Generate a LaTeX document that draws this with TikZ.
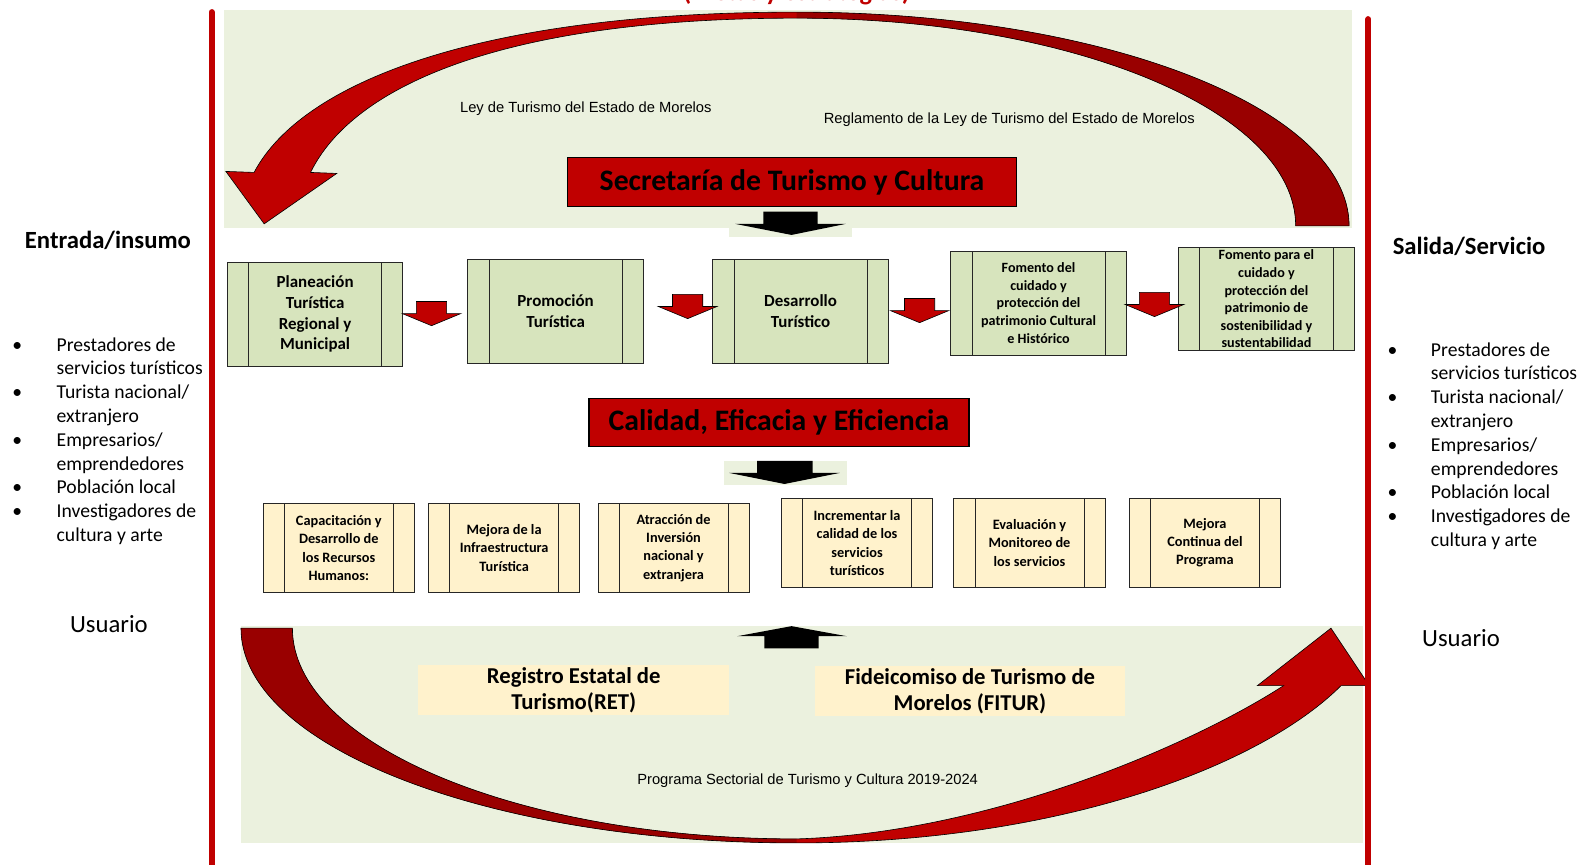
\documentclass[tikz,border=0pt]{standalone}
\usepackage{fontspec}
\setmainfont{Carlito}
\newfontfamily\arialfont{Liberation Sans}
\usetikzlibrary{positioning}

\definecolor{panelgreen}{HTML}{EBF1DE}
\definecolor{boxgreen}{HTML}{D7E4BD}
\definecolor{boxcream}{HTML}{FFF2CC}
\definecolor{redmain}{HTML}{C00000}
\definecolor{reddark}{HTML}{990000}

\tikzset{
  procbox/.style={draw=black!85, line width=0.8pt, inner sep=0pt, align=center,
    path picture={\draw[black!85, line width=0.8pt]
      ([xshift=21pt]path picture bounding box.north west) -- ([xshift=21pt]path picture bounding box.south west)
      ([xshift=-21pt]path picture bounding box.north east) -- ([xshift=-21pt]path picture bounding box.south east);}},
  bigbox/.style={procbox, fill=boxgreen, minimum width=174pt, minimum height=103pt,
    font=\bfseries\fontsize{16.8}{20.5}\selectfont},
  bigboxsm/.style={bigbox, font=\bfseries\fontsize{14}{17.5}\selectfont},
  smallbox/.style={procbox, fill=boxcream, minimum width=150pt, minimum height=89pt,
    font=\bfseries\fontsize{14.2}{18}\selectfont},
  titlebox/.style={draw=black, line width=1.5pt, fill=redmain, inner sep=0pt,
    font=\bfseries\fontsize{29.5}{32}\selectfont},
  fundbox/.style={fill=boxcream, minimum width=308pt, minimum height=49pt, inner sep=0pt,
    align=center, font=\bfseries\fontsize{22.5}{26}\selectfont},
  lawtext/.style={font=\arialfont\fontsize{14.6}{17}\selectfont, inner sep=0pt},
  sidehead/.style={font=\bfseries\fontsize{24.5}{28}\selectfont, inner sep=0pt},
  sidetext/.style={font=\fontsize{19.5}{23.6}\selectfont, inner sep=0pt},
  redarr/.pic={\draw[fill=redmain, line width=0.6pt] (-15,-12) -- (15,-12) -- (15,0) -- (29,0) -- (0,12) -- (-29,0) -- (-15,0) -- cycle;}
}

\begin{document}
\begin{tikzpicture}[x=1pt, y=-1pt]
\fill[white] (0,0) rectangle (1568,857);
\useasboundingbox (0,0) rectangle (1568,857);

% title cut at the top
\node[anchor=base, text=redmain, inner sep=0pt, font=\bfseries\fontsize{26}{30}\selectfont] (ttl) at (790,0.8) {(Metas y estrategias)};

% green panels
\fill[panelgreen] (222,10) rectangle (1341,226);
\fill[panelgreen] (239,621) rectangle (1352,836);

% upper curved arrow
\fill[redmain] (1338,224) .. controls (1338,107) and (1093,12) .. (790,12) .. controls (480,12) and (300,80) .. (252,171) -- (224,170) -- (262,222) -- (334,172) -- (308,171) .. controls (350,85) and (500,18) .. (790,18) .. controls (1063,18) and (1285,110) .. (1285,224) -- cycle;
\fill[reddark] (1338,224) .. controls (1338,107) and (1093,12) .. (790,12) -- (790,18) .. controls (1063,18) and (1285,110) .. (1285,224) -- cycle;
\draw[line width=0.6pt] (1338,224) .. controls (1338,107) and (1093,12) .. (790,12) .. controls (480,12) and (300,80) .. (252,171) -- (224,170) -- (262,222) -- (334,172) -- (308,171) .. controls (350,85) and (500,18) .. (790,18) .. controls (1063,18) and (1285,110) .. (1285,224) -- cycle;

% lower curved arrow
\fill[redmain] (239,623) .. controls (239,741) and (486,836) .. (790,836) .. controls (1050,836) and (1250,760) .. (1330,680) -- (1358,680) -- (1320,623) -- (1247,680) -- (1273,680) .. controls (1180,740) and (980,826) .. (790,832) .. controls (514,832) and (290,738) .. (290,623) -- cycle;
\fill[reddark] (239,623) .. controls (239,741) and (486,836) .. (790,836) -- (790,832) .. controls (514,832) and (290,738) .. (290,623) -- cycle;
\draw[line width=0.6pt] (239,623) .. controls (239,741) and (486,836) .. (790,836) .. controls (1050,836) and (1250,760) .. (1330,680) -- (1358,680) -- (1320,623) -- (1247,680) -- (1273,680) .. controls (1180,740) and (980,826) .. (790,832) .. controls (514,832) and (290,738) .. (290,623) -- cycle;

\node[lawtext] (ley) at (581,108) {Ley de Turismo del Estado de Morelos};
\node[lawtext] (regl) at (1001,119) {Reglamento de la Ley de Turismo del Estado de Morelos};
\node[lawtext] (prog) at (801,774) {Programa Sectorial de Turismo y Cultura 2019-2024};

% secretaria
\node[titlebox, minimum width=445pt, minimum height=49pt] (sec) at (785.5,180.5) {Secretaría de Turismo y Cultura};
\fill[panelgreen] (723,220) rectangle (845,235);
\fill[black] (757,210) -- (811,210) -- (811,222) -- (839,222) -- (785,233) -- (729,222) -- (757,222) -- cycle;

% programas
\node[bigbox] (plan) at (312.5,311.5) {Planeación\\Turística\\Regional y\\Municipal};
\node[bigbox] (promo) at (551,308.5) {Promoción\\Turística};
\node[bigbox] (desa) at (794,308.5) {Desarrollo\\Turístico};
\node[bigboxsm] (fom1) at (1030,300.5) {Fomento del\\cuidado y\\protección del\\patrimonio Cultural\\e Histórico};
\node[bigboxsm] (fom2) at (1256,296.5) {Fomento para el\\cuidado y\\protección del\\patrimonio de\\sostenibilidad y\\sustentabilidad};
\pic at (428,311) {redarr};
\pic at (682,304) {redarr};
\pic at (912,308) {redarr};
\pic at (1145,302) {redarr};

% calidad
\node[titlebox, minimum width=377pt, minimum height=48pt] (cal) at (772.5,419) {Calidad, Eficacia y Eficiencia};
\fill[panelgreen] (718,457) rectangle (840,481);
\fill[black] (751,457) -- (806,457) -- (806,469) -- (833,469) -- (778,480) -- (723,469) -- (751,469) -- cycle;

\node[smallbox] (capa) at (336,543.5) {Capacitación y\\Desarrollo de\\los Recursos\\Humanos:};
\node[smallbox] (infra) at (500,543.5) {Mejora de la\\Infraestructura\\Turística};
\node[smallbox] (inver) at (668,543.5) {Atracción de\\Inversión\\nacional y\\extranjera};
\node[smallbox] (incr) at (850,538.5) {Incrementar la\\calidad de los\\servicios\\turísticos};
\node[smallbox] (eval) at (1021,538.5) {Evaluación y\\Monitoreo de\\los servicios};
\node[smallbox] (mejora) at (1195,538.5) {Mejora\\Continua del\\Programa};

% fondos
\fill[black] (758,643) -- (812,643) -- (812,631) -- (840,631) -- (785,621) -- (731,631) -- (758,631) -- cycle;
\node[fundbox] (ret) at (569,684.5) {Registro Estatal de\\Turismo(RET)};
\node[fundbox] (fitur) at (962,685.5) {Fideicomiso de Turismo de\\Morelos (FITUR)};

% entrada / salida
\draw[redmain, line width=6pt, line cap=round] (210,12) -- (210,870);
\draw[redmain, line width=6pt, line cap=round] (1357,19) -- (1357,870);

\node[sidehead] (entrada) at (107,238) {Entrada/insumo};
\node[sidetext, anchor=north west] (inlist) at (12,331.5) {\begin{tabular}{@{}p{44pt}@{}l@{}}
\textbullet & Prestadores de\\
 & servicios turísticos\\
\textbullet & Turista nacional/\\
 & extranjero\\
\textbullet & Empresarios/\\
 & emprendedores\\
\textbullet & Población local\\
\textbullet & Investigadores de\\
 & cultura y arte
\end{tabular}};
\node[sidetext, font=\fontsize{24.5}{28}\selectfont] (usu1) at (108,619) {Usuario};

\node[sidehead] (salida) at (1457,244) {Salida/Servicio};
\node[sidetext, anchor=north west] (outlist) at (1376,336.5) {\begin{tabular}{@{}p{43pt}@{}l@{}}
\textbullet & Prestadores de\\
 & servicios turísticos\\
\textbullet & Turista nacional/\\
 & extranjero\\
\textbullet & Empresarios/\\
 & emprendedores\\
\textbullet & Población local\\
\textbullet & Investigadores de\\
 & cultura y arte
\end{tabular}};
\node[sidetext, font=\fontsize{24.5}{28}\selectfont] (usu2) at (1449,633) {Usuario};
\end{tikzpicture}
\end{document}
